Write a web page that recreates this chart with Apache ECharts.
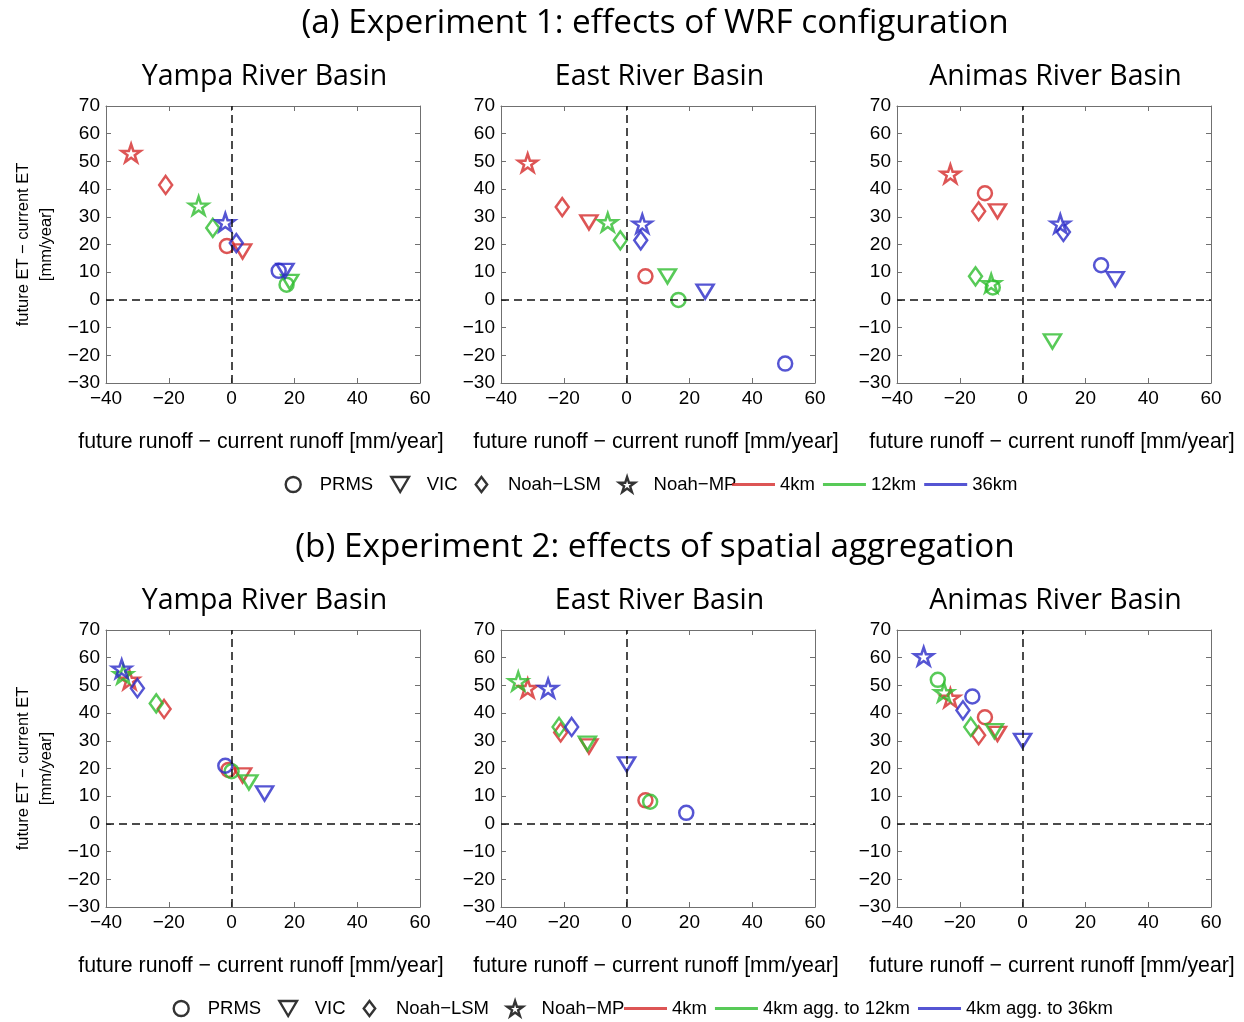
<!DOCTYPE html>
<html>
<head>
<meta charset="utf-8">
<script src="https://cdn.jsdelivr.net/npm/echarts@6/dist/echarts.min.js"></script>
<style>
  html, body { margin: 0; padding: 0; background: #fff; }
  #chart { width: 1244px; height: 1022px; }
</style>
</head>
<body>
<div id="chart"></div>
<script>
// ---- Data -----------------------------------------------------------------
// Land-surface / hydrology models, in the order used by every point array below
const models = ['PRMS', 'VIC', 'Noah−LSM', 'Noah−MP'];
const basins = ['Yampa River Basin', 'East River Basin', 'Animas River Basin'];
const experimentTitles = [
  '(a) Experiment 1: effects of WRF configuration',
  '(b) Experiment 2: effects of spatial aggregation'
];
const resolutionsExp1 = ['4km', '12km', '36km'];
const resolutionsExp2 = ['4km', '4km agg. to 12km', '4km agg. to 36km'];
const xAxisTitle = 'future runoff − current runoff [mm/year]';
const yAxisTitle = 'future ET − current ET\n[mm/year]';

// [runoff change, ET change] in mm/year for PRMS, VIC, Noah−LSM, Noah−MP
// Experiment 1: WRF run at 4, 12 and 36 km
const exp1Yampa4km   = [[-1.5, 19.5], [3.5, 17.5], [-21, 41.5], [-32, 53]];
const exp1Yampa12km  = [[17.5, 5.5], [18.5, 6.5], [-6, 26], [-10.5, 34]];
const exp1Yampa36km  = [[15, 10.5], [17, 10.5], [1.5, 20.5], [-2, 28]];
const exp1East4km    = [[6, 8.5], [-12, 28], [-20.5, 33.5], [-31.5, 49.5]];
const exp1East12km   = [[16.5, 0], [13, 8.5], [-2, 21.5], [-6, 28]];
const exp1East36km   = [[50.5, -23], [25, 3], [4.5, 21.5], [5, 27.5]];
const exp1Animas4km  = [[-12, 38.5], [-8, 32], [-14, 32], [-23, 45.5]];
const exp1Animas12km = [[-9.5, 4.5], [9.5, -15], [-15, 8.5], [-10, 6]];
const exp1Animas36km = [[25, 12.5], [29.5, 7.5], [13, 24.5], [12, 27.5]];

// Experiment 2: 4 km forcing aggregated to 12 and 36 km
const exp2Yampa4km   = [[-1, 19.5], [3.5, 17.5], [-21.5, 41.5], [-32.5, 52]];
const exp2Yampa12km  = [[0, 19], [5.5, 15], [-24, 43.5], [-34.5, 54]];
const exp2Yampa36km  = [[-2, 21], [10.5, 11], [-30, 49], [-35, 56]];
const exp2East4km    = [[6, 8.5], [-12, 28], [-21, 33], [-31.5, 49]];
const exp2East12km   = [[7.5, 8], [-12.5, 29], [-21.5, 35], [-34.5, 51.5]];
const exp2East36km   = [[19, 4], [0, 21.5], [-17.5, 35], [-25, 49]];
const exp2Animas4km  = [[-12, 38.5], [-8, 32.5], [-14, 32], [-23, 45.5]];
const exp2Animas12km = [[-27, 52], [-9, 33.5], [-16.5, 35], [-25, 47.5]];
const exp2Animas36km = [[-16, 46], [0, 30], [-19, 41], [-31.5, 60.5]];

const panelData = [
  [exp1Yampa4km, exp1Yampa12km, exp1Yampa36km],
  [exp1East4km, exp1East12km, exp1East36km],
  [exp1Animas4km, exp1Animas12km, exp1Animas36km],
  [exp2Yampa4km, exp2Yampa12km, exp2Yampa36km],
  [exp2East4km, exp2East12km, exp2East36km],
  [exp2Animas4km, exp2Animas12km, exp2Animas36km]
];

// ---- Styling ----------------------------------------------------------------
const resColors = ['#d42a2a', '#2ebd2e', '#2a2ac8'];
const frameColor = '#707070';
const tickFont = 'Liberation Sans, Arial, sans-serif';
const titleFont = 'Open Sans, sans-serif';

const STAR = 'path://M100,0L122.45,69.1L195.1,69.1L136.3,111.8L158.8,180.9L100,138.2L41.2,180.9L63.7,111.8L4.9,69.1L77.55,69.1Z';
const markerStyles = [
  { symbol: 'circle', symbolSize: [14, 14], symbolRotate: 0 },
  { symbol: 'triangle', symbolSize: [17, 14], symbolRotate: 180 },
  { symbol: 'diamond', symbolSize: [13, 18], symbolRotate: 0 },
  { symbol: STAR, symbolSize: [19, 18], symbolRotate: 0 }
];
const legendIcons = [
  'circle',
  'path://M0,0L20,0L10,17Z',
  'path://M6.5,0L13,8.5L6.5,17L0,8.5Z',
  STAR
];
const LINE_ICON = 'path://M0,0H150V10H0Z';

const gridLefts = [106, 501, 897];
const gridTops = [106, 630];
const gridW = 314, gridH = 277;

const minusFmt = v => (v < 0 ? '\u2212' + (-v) : String(v));

// ---- Build option -----------------------------------------------------------
const grids = [], xAxes = [], yAxes = [], series = [], titles = [];

experimentTitles.forEach((t, i) => {
  titles.push({
    text: t, left: 650, top: i === 0 ? 2 : 526, textAlign: 'center',
    textStyle: { fontFamily: titleFont, fontSize: 33.3, fontWeight: 'normal', color: '#000' }
  });
});

panelData.forEach((panel, g) => {
  const row = Math.floor(g / 3), col = g % 3;
  const left = gridLefts[col], top = gridTops[row];
  grids.push({ left: left, top: top, width: gridW, height: gridH, containLabel: false, outerBoundsMode: 'none' });

  titles.push({
    text: basins[col], left: left + gridW / 2 - 3.5, top: top - 48.5, textAlign: 'center',
    textStyle: { fontFamily: titleFont, fontSize: 28.5, fontWeight: 'normal', color: '#000' }
  });

  const lineCommon = { show: true, onZero: false, lineStyle: { color: frameColor, width: 1 } };
  const tickCommon = { show: true, inside: true, length: 5, lineStyle: { color: frameColor, width: 1 } };

  xAxes.push({
    type: 'value', gridIndex: g, position: 'bottom', min: -40, max: 60, interval: 20,
    axisLine: lineCommon, axisTick: tickCommon, splitLine: { show: false },
    axisLabel: { color: '#000', fontSize: 19, fontFamily: tickFont, margin: 6, formatter: minusFmt },
    name: xAxisTitle, nameLocation: 'middle', nameGap: 49,
    nameTextStyle: { color: '#000', fontSize: 21.3, fontFamily: tickFont, padding: [0, 4, 0, 0] }
  });
  xAxes.push({
    type: 'value', gridIndex: g, position: 'top', min: -40, max: 60, interval: 20,
    axisLine: lineCommon, axisTick: tickCommon, splitLine: { show: false },
    axisLabel: { show: false }
  });
  const yLeft = {
    type: 'value', gridIndex: g, position: 'left', min: -30, max: 70, interval: 10,
    axisLine: lineCommon, axisTick: tickCommon, splitLine: { show: false },
    axisLabel: { color: '#000', fontSize: 19, fontFamily: tickFont, margin: 6, formatter: minusFmt }
  };
  if (col === 0) {
    Object.assign(yLeft, {
      name: yAxisTitle, nameLocation: 'middle', nameRotate: 90, nameGap: 48,
      nameTextStyle: { color: '#000', fontSize: 16.5, lineHeight: 23, fontFamily: tickFont, align: 'center' }
    });
  }
  yAxes.push(yLeft);
  yAxes.push({
    type: 'value', gridIndex: g, position: 'right', min: -30, max: 70, interval: 10,
    axisLine: lineCommon, axisTick: tickCommon, splitLine: { show: false },
    axisLabel: { show: false }
  });

  const resNames = row === 0 ? resolutionsExp1 : resolutionsExp2;
  panel.forEach((points, r) => {
    const s = {
      type: 'scatter', name: resNames[r],
      xAxisIndex: 2 * g, yAxisIndex: 2 * g,
      itemStyle: { color: 'rgba(0,0,0,0)', borderColor: resColors[r], borderWidth: 2.5 },
      emphasis: { disabled: true },
      data: points.map((p, m) => ({
        value: p,
        symbol: markerStyles[m].symbol,
        symbolSize: markerStyles[m].symbolSize,
        symbolRotate: markerStyles[m].symbolRotate
      }))
    };
    if (r === 0) {
      // dashed zero lines through each panel
      s.markLine = {
        silent: true, symbol: ['none', 'none'], label: { show: false },
        lineStyle: { color: '#111', type: [8, 5], width: 1.5 },
        emphasis: { disabled: true },
        data: [{ xAxis: 0 }, { yAxis: 0 }]
      };
    }
    series.push(s);
  });
});

// empty series that carry the marker-shape legend entries
models.forEach(m => series.push({ type: 'scatter', name: m, data: [] }));
resolutionsExp2.slice(1).forEach(n => series.push({ type: 'scatter', name: n, data: [] }));

const shapeItems = models.map((m, i) => ({
  name: m, icon: legendIcons[i],
  itemStyle: { color: 'rgba(0,0,0,0)', borderColor: '#000', borderWidth: 2.4 }
}));
const lineItems = names => names.map((n, i) => ({
  name: n, icon: LINE_ICON,
  itemStyle: { color: resColors[i], borderWidth: 0 }
}));

const legendCommon = {
  orient: 'horizontal', itemWidth: 43, itemHeight: 15, padding: 0,
  selectedMode: false, symbolKeepAspect: true,
  textStyle: { color: '#000', fontSize: 18.5, fontFamily: tickFont }
};

const option = {
  animation: false,
  backgroundColor: '#fff',
  title: titles,
  grid: grids,
  xAxis: xAxes,
  yAxis: yAxes,
  legend: [
    Object.assign({}, legendCommon, { left: 284.5, top: 475, itemGap: 17, data: shapeItems }),
    Object.assign({}, legendCommon, { left: 732, top: 475, itemGap: 8, data: lineItems(resolutionsExp1) }),
    Object.assign({}, legendCommon, { left: 172.5, top: 999, itemGap: 17, data: shapeItems }),
    Object.assign({}, legendCommon, { left: 624, top: 999, itemGap: 8, data: lineItems(resolutionsExp2) })
  ],
  series: series
};

const chart = echarts.init(document.getElementById('chart'), null, { renderer: 'canvas' });
chart.setOption(option);
</script>
</body>
</html>
